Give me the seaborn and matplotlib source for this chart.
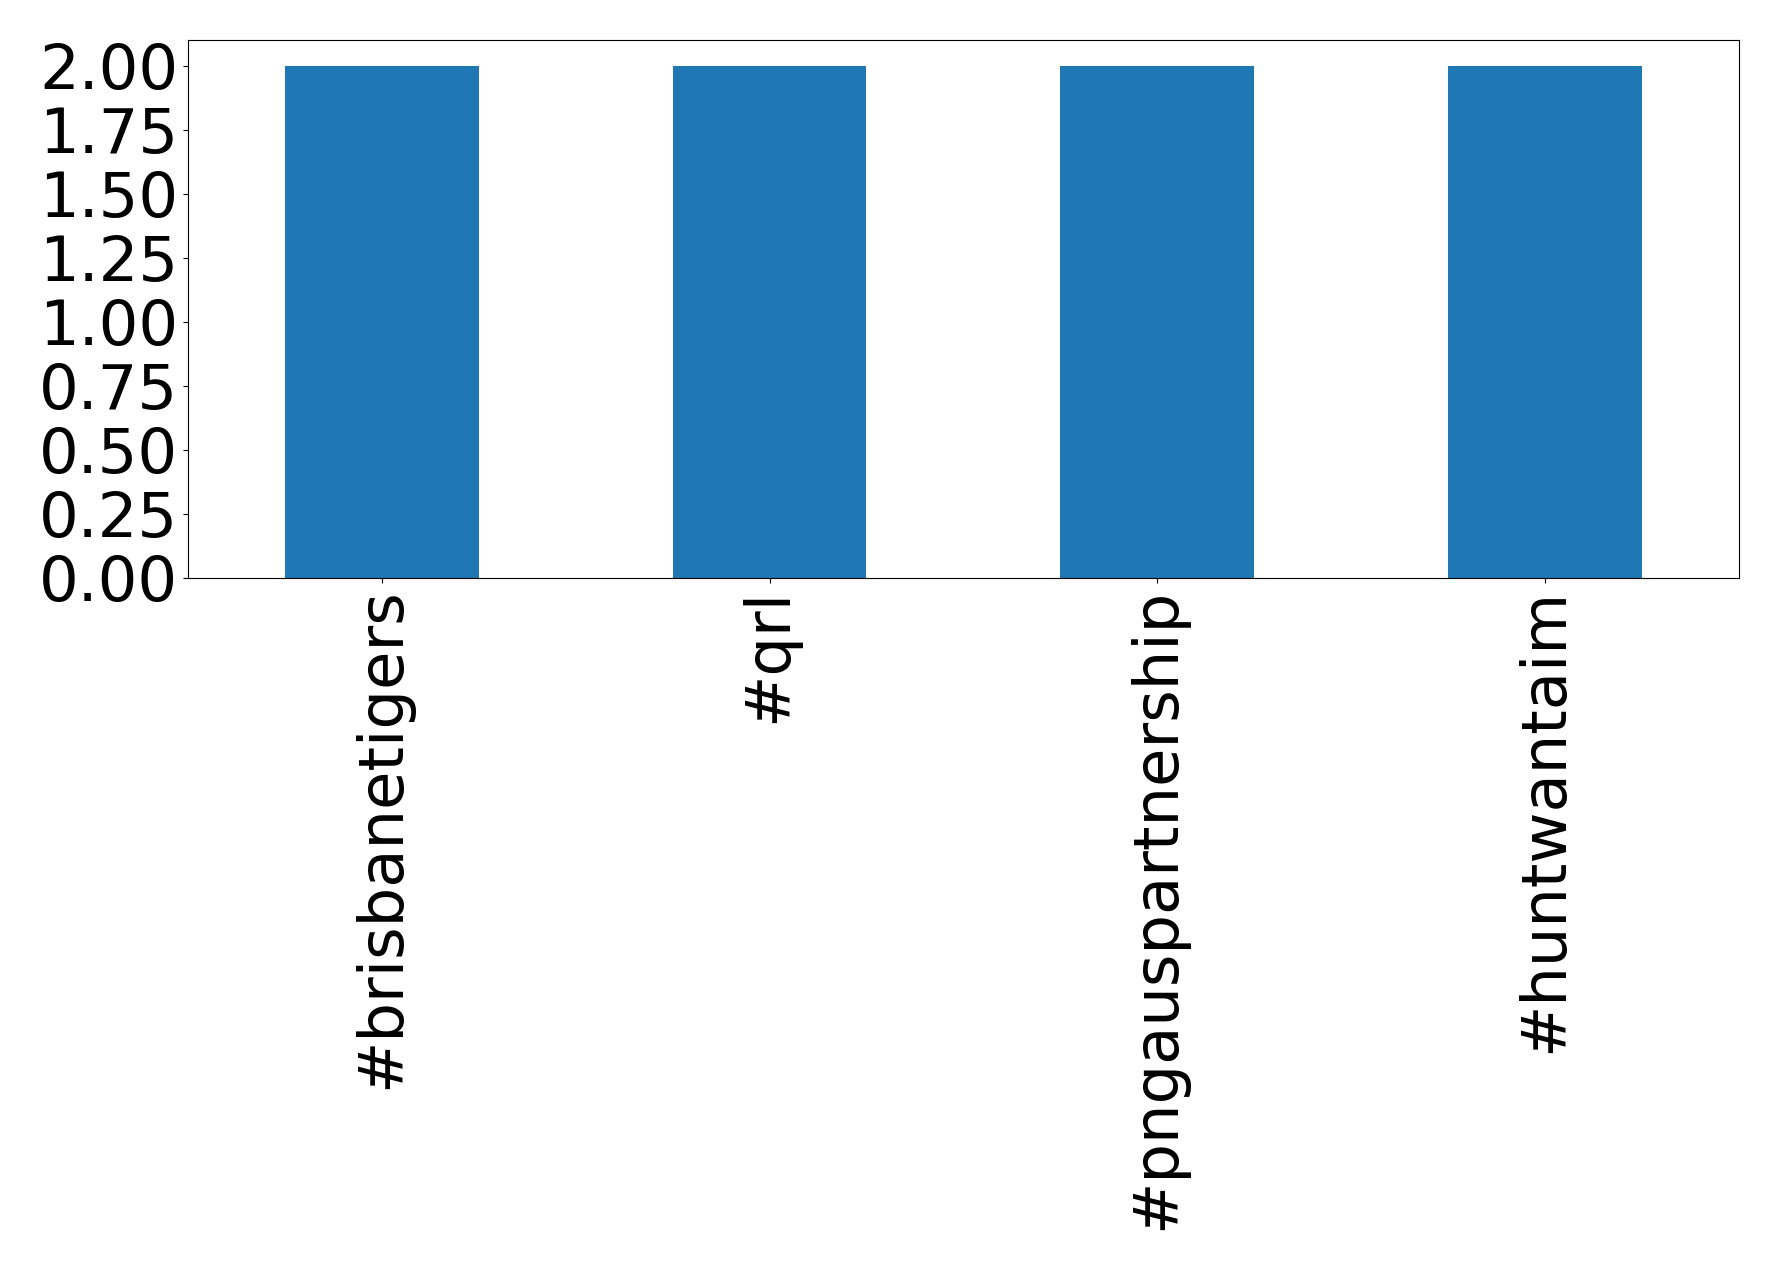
import pandas as pd
import matplotlib
matplotlib.use('Agg')
import matplotlib.pyplot as plt
from matplotlib.ticker import MultipleLocator, FormatStrFormatter
import seaborn as sns

# hashtag counts
hashtags = ['#brisbanetigers', '#qrl', '#pngauspartnership', '#huntwantaim']
counts = [2, 2, 2, 2]

df = pd.DataFrame({'hashtag': hashtags, 'count': counts})

plt.rcParams['font.family'] = ['DejaVu Sans']
fig, ax = plt.subplots(figsize=(17.78, 12.70), dpi=100)
fig.subplots_adjust(left=0.1057, right=0.978, top=0.9685, bottom=0.545)

sns.barplot(x='hashtag', y='count', data=df, color='#1f77b4', saturation=1,
            width=0.5, ax=ax)

ax.set_xlim(-0.5, len(hashtags) - 0.5)
ax.set_ylim(0, 2.1)
ax.yaxis.set_major_locator(MultipleLocator(0.25))
ax.yaxis.set_major_formatter(FormatStrFormatter('%.2f'))
ax.set_xlabel('')
ax.set_ylabel('')
ax.tick_params(axis='both', labelsize=45)
plt.xticks(rotation=90)
for s in ax.spines.values():
    s.set_color('black')
    s.set_linewidth(0.8)

plt.savefig('out.png', dpi=100)
plt.close()
